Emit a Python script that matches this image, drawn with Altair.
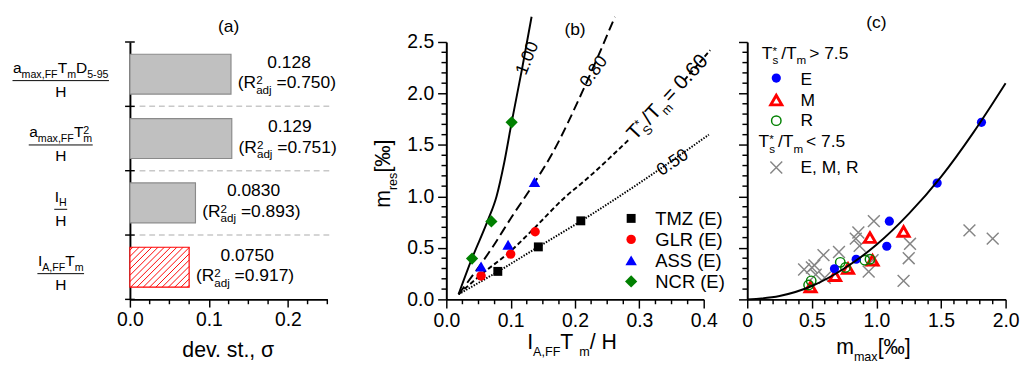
import altair as alt
import numpy as np
import pandas as pd

FONT = "Liberation Sans"

# ---------------- panel (a) data ----------------
a_sigma = [0.128, 0.129, 0.0830, 0.0750]
a_sigma_txt = ["0.128", "0.129", "0.0830", "0.0750"]
a_r2adj_txt = ["0.750", "0.751", "0.893", "0.917"]
a_x_major = [0.0, 0.1, 0.2]
a_label_pieces = [
    [("a", "n"), ("max,FF", "b"), ("T", "n"), ("m", "b"), ("D", "n"), ("5-95", "b")],
    [("a", "n"), ("max,FF", "b"), ("T", "n"), ("2", "p0"), ("m", "b")],
    [("I", "n"), ("H", "b")],
    [("I", "n"), ("A,FF", "b"), ("T", "n"), ("m", "b")],
]

# ---------------- panel (b) data ----------------
b_names = ["TMZ (E)", "GLR (E)", "ASS (E)", "NCR (E)"]
b_tmz_x = [0.080, 0.143, 0.209]
b_tmz_y = [0.272, 0.510, 0.763]
b_glr_x = [0.054, 0.100, 0.138]
b_glr_y = [0.228, 0.440, 0.657]
b_ass_x = [0.054, 0.096, 0.137]
b_ass_y = [0.320, 0.530, 1.140]
b_ncr_x = [0.040, 0.070, 0.1015]
b_ncr_y = [0.397, 0.757, 1.720]

b_c100_x = [0.019, 0.040, 0.064, 0.078, 0.090, 0.1015, 0.118, 0.1325]
b_c100_y = [0.05, 0.40, 0.76, 1.00, 1.33, 1.72, 2.25, 2.745]
b_c080_x = [0.019, 0.071, 0.1015, 0.1366, 0.164, 0.2145, 0.262]
b_c080_y = [0.05, 0.50, 0.80, 1.13, 1.41, 2.06, 2.745]
b_c060_x = [0.019, 0.054, 0.100, 0.138, 0.184, 0.2145, 0.285, 0.370, 0.410]
b_c060_y = [0.05, 0.24, 0.47, 0.70, 0.99, 1.15, 1.56, 2.13, 2.42]
b_c050_x = [0.019, 0.080, 0.143, 0.209, 0.300, 0.408]
b_c050_y = [0.05, 0.27, 0.51, 0.76, 1.13, 1.60]

b_lbl_txt = ["1.00", "0.80", "0.50"]
b_lbl_x = [0.1265, 0.2295, 0.352]
b_lbl_y = [2.34, 2.21, 1.327]
b_lbl_ang = [292, 306, 326]

b_x_major = [0.0, 0.1, 0.2, 0.3, 0.4]
b_y_major = [0.0, 0.5, 1.0, 1.5, 2.0, 2.5]

# ---------------- panel (c) data ----------------
c_E_x = [0.675, 0.843, 1.080, 1.100, 1.470, 1.813]
c_E_y = [0.297, 0.390, 0.516, 0.760, 1.130, 1.720]
c_M_x = [0.49, 0.68, 0.78, 0.97, 0.95, 1.21]
c_M_y = [0.12, 0.23, 0.30, 0.38, 0.60, 0.66]
c_R_x = [0.475, 0.495, 0.72, 0.76, 0.91, 0.95]
c_R_y = [0.14, 0.18, 0.36, 0.31, 0.38, 0.39]
c_X_x = [0.44, 0.50, 0.52, 0.53, 0.59, 0.60, 0.71, 0.84, 0.86, 0.87, 0.94, 0.97, 0.98, 1.21, 1.25, 1.26, 1.72, 1.90]
c_X_y = [0.29, 0.31, 0.33, 0.24, 0.43, 0.21, 0.46, 0.59, 0.65, 0.52, 0.27, 0.38, 0.76, 0.18, 0.40, 0.54, 0.67, 0.59]
c_fit_x = [0.0, 0.25, 0.5, 0.75, 1.0, 1.25, 1.5, 1.75, 2.0]
c_fit_y = [0.0, 0.033, 0.13, 0.30, 0.53, 0.83, 1.19, 1.62, 2.10]
c_x_major = [0.0, 0.5, 1.0, 1.5, 2.0]

WA, WB, WC, H = 204, 266, 267, 266

# ---------------- helpers ----------------
CW = dict(zip("abcdefghijklmnopqrstuvwxyz",
              [556, 556, 500, 556, 556, 278, 556, 556, 222, 222, 500, 222, 833, 556, 556, 556, 556, 333, 500, 278, 556, 500, 722, 500, 500, 500]))
CW.update(zip("ABCDEFGHIJKLMNOPQRSTUVWXYZ",
              [667, 667, 722, 722, 667, 611, 778, 722, 278, 500, 667, 556, 833, 722, 778, 667, 778, 722, 667, 611, 722, 667, 944, 667, 667, 611]))
CW.update({c: 556 for c in "0123456789"})
CW.update({" ": 278, ".": 278, ",": 278, "-": 333, "=": 584, "(": 333, ")": 333, "/": 278,
           "*": 389, ">": 584, "<": 584, "[": 278, "]": 278, "\u2030": 1000, "\u03c3": 570})


def tw(s, fs):
    return sum(CW.get(ch, 556) for ch in s) * fs / 1000.0


def rich(pieces, x, y, main, sub, data=None, anchor="center", angle=0, sub_dy=None,
         base_dy=0.0, dx0=0.0, color="black", gap=0.0):
    if data is None:
        data = pd.DataFrame({"k": [0]})
    if sub_dy is None:
        sub_dy = 0.3 * main
    sup_dy = -0.716 * (main - sub)
    items, pos = [], 0.0
    for txt, kind in pieces:
        fs = main if kind == "n" else sub
        dy = base_dy + (0 if kind == "n" else (sub_dy if kind == "b" else sup_dy))
        items.append((txt, fs, pos, dy))
        if kind != "p0":
            s = str(data[txt[1:]].iloc[0]) if txt.startswith("@") else txt
            pos += tw(s, fs) + (gap if kind == "b" else 0)
    start = dx0 - (pos / 2 if anchor == "center" else 0)
    layers = []
    for txt, fs, p, dy in items:
        mk = dict(fontSize=fs, dx=start + p, dy=dy, align="left", baseline="alphabetic",
                  font=FONT, color=color)
        if angle:
            mk["angle"] = angle
        enc = dict(x=x, y=y)
        if txt.startswith("@"):
            enc["text"] = alt.Text(txt[1:] + ":N")
        else:
            mk["text"] = txt
        layers.append(alt.Chart(data).mark_text(**mk).encode(**enc))
    return layers, pos


def scl(dom, rev=False):
    kw = dict(domain=dom, nice=False, zero=False)
    if rev:
        kw["reverse"] = True
    return alt.Scale(**kw)


def minor(lo, hi, step, major_step):
    vals = np.round(np.arange(lo, hi + 1e-9, step), 4)
    return [float(v) for v in vals if abs(v / major_step - round(v / major_step)) > 1e-6]


AX = dict(tickWidth=1.5, domainWidth=2, labelFontSize=20, labelFlush=False, title=None, grid=False,
          labelFont=FONT, labelColor="black", domainColor="black", tickColor="black")
axa_x = alt.Axis(values=a_x_major, format=".1f", tickSize=8, labelPadding=3, **AX)
axa_y = alt.Axis(values=[0, 1, 2, 3, 4], labels=False, ticks=False, **AX)
axb_x = alt.Axis(values=b_x_major, format=".1f", tickSize=9, labelPadding=3, **AX)
axb_y = alt.Axis(values=b_y_major, format=".1f", tickSize=9, labelPadding=4, **AX)
axc_x = alt.Axis(values=c_x_major, labelExpr="datum.value == 0 ? '0' : format(datum.value, '.1f')",
                 tickSize=9, labelPadding=3, **AX)
axc_y = alt.Axis(values=b_y_major, labels=False, tickSize=9, **AX)


def XA(f):
    return alt.X(f, type="quantitative", scale=scl([0, 0.25]), axis=axa_x)


def YA(f):
    return alt.Y(f, type="quantitative", scale=scl([0, 4], True), axis=axa_y)


def XB(f):
    return alt.X(f, type="quantitative", scale=scl([0, 0.4]), axis=axb_x)


def YB(f):
    return alt.Y(f, type="quantitative", scale=scl([0, 2.5]), axis=axb_y)


def XC(f):
    return alt.X(f, type="quantitative", scale=scl([0, 2.0]), axis=axc_x)


def YC(f):
    return alt.Y(f, type="quantitative", scale=scl([0, 2.5]), axis=axc_y)


def minor_x(vals, X, ln=5):
    return alt.Chart(pd.DataFrame({"v": vals})).mark_rule(color="black", strokeWidth=1.5).encode(
        x=X("v"), y=alt.value(H), y2=alt.value(H + ln))


def minor_y(vals, Y, ln=5):
    return alt.Chart(pd.DataFrame({"v": vals})).mark_rule(color="black", strokeWidth=1.5).encode(
        y=Y("v"), x=alt.value(0), x2=alt.value(-ln))


def one(**kw):
    return pd.DataFrame({k: [v] for k, v in kw.items()})


# =============== panel (a) ===============
rows = list(range(len(a_sigma)))
dfa = pd.DataFrame({
    "pos": rows, "val": a_sigma, "x0": [0.0] * 4,
    "y0": [r + 0.19 for r in rows], "y1": [r + 0.81 for r in rows],
    "fillc": ["#c0c0c0"] * 3 + ["#ffffff"], "strokec": ["#8a8a8a"] * 3 + ["#ff0000"],
    "txt": a_sigma_txt, "r2": ["=" + v + ")" for v in a_r2adj_txt],
    "yl1": [r + 0.40 for r in rows], "yl2": [r + 0.72 for r in rows],
})

bars = alt.Chart(dfa).mark_bar(strokeWidth=1.2).encode(
    x=XA("x0"), x2=alt.X2("val"), y=YA("y0"), y2=alt.Y2("y1"),
    fill=alt.Fill("fillc:N", scale=None), stroke=alt.Stroke("strokec:N", scale=None))

# hatching of the highlighted bar
pxx, pxy = WA / 0.25, H / 4.0
hb = 3
Wp, Hp = a_sigma[hb] * pxx, 0.62 * pxy
hx0, hy0, hx1, hy1 = [], [], [], []
for c in np.arange(-Hp + 3, Wp, 6.5):
    u0, u1 = max(0.0, c), min(Wp, Hp + c)
    if u1 > u0:
        hx0.append(u0 / pxx); hy0.append(hb + 0.81 - (u0 - c) / pxy)
        hx1.append(u1 / pxx); hy1.append(hb + 0.81 - (u1 - c) / pxy)
hatch = alt.Chart(pd.DataFrame({"a": hx0, "b": hy0, "c": hx1, "d": hy1})).mark_rule(
    color="#ff0000", strokeWidth=1).encode(x=XA("a"), y=YA("b"), x2=alt.X2("c"), y2=alt.Y2("d"))

cross_ticks = alt.Chart(pd.DataFrame({"v": [0, 1, 2, 3, 4]})).mark_rule(color="black", strokeWidth=1.5).encode(
    y=YA("v"), x=alt.value(-5), x2=alt.value(5))
seps = alt.Chart(pd.DataFrame({"v": [1, 2, 3]})).mark_rule(color="#c8c8c8", strokeWidth=1.5, strokeDash=[6, 4]).encode(
    y=YA("v"), x=alt.value(10), x2=alt.value(210))

lab1 = alt.Chart(dfa).mark_text(fontSize=18, dx=60, align="center", baseline="alphabetic", font=FONT).encode(
    x=XA("val"), y=YA("yl1"), text="txt:N")
lab2, _ = rich([("(R", "n"), ("2", "p0"), ("adj", "b"), ("@r2", "n")], XA("val"), YA("yl2"), 18, 12,
               data=dfa, anchor="left", dx0=7, gap=5)

a_layers = [bars, seps, hatch, cross_ticks, minor_x(minor(0, 0.25, 0.025, 0.1), XA), lab1] + lab2
cxa = -71.5
for i, pieces in enumerate(a_label_pieces):
    d1 = one(yn=i + 0.48, yl=i + 0.60, yh=i + 0.855)
    num, w = rich(pieces, alt.value(cxa), YA("yn"), 16, 11, data=d1)
    den, _ = rich([("H", "n")], alt.value(cxa), YA("yh"), 16, 11, data=d1)
    w = max(w, tw("H", 16)) + 1
    line = alt.Chart(d1).mark_rule(color="black", strokeWidth=1).encode(
        x=alt.value(cxa - w / 2), x2=alt.value(cxa + w / 2), y=YA("yl"))
    a_layers += num + den + [line]
ta, _ = rich([("(a)", "n")], alt.value(WA / 2), alt.value(-10), 18, 12)
xta, _ = rich([("dev. st., \u03c3", "n")], alt.value(WA / 2), alt.value(H + 60), 22, 14)
a_layers += ta + xta
pa = alt.layer(*a_layers).properties(width=WA, height=H)

# =============== panel (b) ===============
b_style = {"TMZ (E)": ("square", "#000000", 85), "GLR (E)": ("circle", "#ff0000", 95),
           "ASS (E)": ("triangle-up", "#0000ff", 140), "NCR (E)": ("diamond", "#008000", 160)}
b_pts = {"TMZ (E)": (b_tmz_x, b_tmz_y), "GLR (E)": (b_glr_x, b_glr_y),
         "ASS (E)": (b_ass_x, b_ass_y), "NCR (E)": (b_ncr_x, b_ncr_y)}
recs = []
for nm in b_names:
    for xv, yv in zip(*b_pts[nm]):
        s = b_style[nm]
        recs.append({"x": xv, "y": yv, "shp": s[0], "col": s[1], "sz": s[2]})
dfb = pd.DataFrame(recs)


def bline(xs, ys, dash=None, seg=None):
    df = pd.DataFrame({"x": xs, "y": ys, "s": seg if seg is not None else [0] * len(xs)})
    mk = dict(color="black", strokeWidth=2, interpolate="monotone", strokeJoin="round")
    if dash:
        mk["strokeDash"] = dash
    return alt.Chart(df).mark_line(**mk).encode(x=XB("x"), y=YB("y"), detail="s:N")


g060 = [(xv, yv, 0 if xv <= 0.286 else 1) for xv, yv in zip(b_c060_x, b_c060_y) if xv <= 0.286 or xv >= 0.368]
b_layers = [
    alt.Chart(dfb).mark_point(filled=True, opacity=0).encode(x=XB("x"), y=YB("y")),
    bline(b_c100_x, b_c100_y),
    bline(b_c080_x, b_c080_y, [10, 5]),
    bline([g[0] for g in g060], [g[1] for g in g060], [5, 3], [g[2] for g in g060]),
    bline(b_c050_x, b_c050_y, [1.5, 1.5]),
]
for t, lx, ly, ang in zip(b_lbl_txt, b_lbl_x, b_lbl_y, b_lbl_ang):
    b_layers.append(alt.Chart(one(x=lx, y=ly)).mark_text(
        text=t, angle=ang, fontSize=18, align="center", baseline="middle", font=FONT).encode(x=XB("x"), y=YB("y")))
ts_lbl, _ = rich([("T", "n"), ("*", "p0"), ("S", "b"), ("/T", "n"), ("m", "b"), (" = 0.60", "n")],
                 XB("x"), YB("y"), 21, 13, data=one(x=0.288, y=1.57), anchor="left", angle=313, base_dy=5, gap=1)
b_layers += ts_lbl
b_layers.append(alt.Chart(dfb).mark_point(filled=True, opacity=1).encode(
    x=XB("x"), y=YB("y"), shape=alt.Shape("shp:N", scale=None),
    fill=alt.Fill("col:N", scale=None), size=alt.Size("sz:Q", scale=None)))
b_layers += [minor_x(minor(0, 0.4, 0.025, 0.1), XB), minor_y(minor(0, 2.5, 0.1, 0.5), YB)]
for k, nm in enumerate(b_names):
    s = b_style[nm]
    b_layers.append(alt.Chart(one(k=k)).mark_point(shape=s[0], fill=s[1], size=s[2], filled=True, opacity=1).encode(
        x=alt.value(191), y=alt.value(182.3 + k * 21.7)))
    b_layers.append(alt.Chart(one(k=k)).mark_text(text=nm, fontSize=19, align="left", baseline="alphabetic", font=FONT).encode(
        x=alt.value(216), y=alt.value(189 + k * 21.7)))
tb, _ = rich([("(b)", "n")], alt.value(WB / 2), alt.value(-7), 18, 12)
xtb, _ = rich([("I", "n"), ("A,FF", "b"), (" T", "n"), ("m", "b"), (" / H", "n")],
              alt.value(WB / 2), alt.value(H + 51), 22, 13, sub_dy=8)
ytb, _ = rich([("m", "n"), ("res", "b"), (" [\u2030]", "n")], alt.value(-58), alt.value(H / 2), 22, 13,
              angle=270, sub_dy=7)
b_layers += tb + xtb + ytb
pb = alt.layer(*b_layers).properties(width=WB, height=H)

# =============== panel (c) ===============
XSHAPE = "M-1,-1L1,1M-1,1L1,-1"
c_layers = [
    alt.Chart(pd.DataFrame({"x": c_X_x, "y": c_X_y})).mark_point(
        shape=XSHAPE, size=150, color="#858585", strokeWidth=1.5, filled=False, opacity=1).encode(
        x=XC("x"), y=YC("y")),
    alt.Chart(pd.DataFrame({"x": c_M_x, "y": c_M_y})).mark_point(
        shape="triangle-up", size=130, color="#ff0000", strokeWidth=3, filled=False, opacity=1).encode(
        x=XC("x"), y=YC("y")),
    alt.Chart(pd.DataFrame({"x": c_R_x, "y": c_R_y})).mark_point(
        shape="circle", size=95, color="#008000", strokeWidth=1.5, filled=False, opacity=1).encode(
        x=XC("x"), y=YC("y")),
    alt.Chart(pd.DataFrame({"x": c_E_x, "y": c_E_y})).mark_point(
        shape="circle", size=90, color="#0000ff", filled=True, opacity=1).encode(x=XC("x"), y=YC("y")),
    alt.Chart(pd.DataFrame({"x": c_fit_x, "y": c_fit_y})).mark_line(
        color="black", strokeWidth=2, interpolate="monotone", strokeJoin="round").encode(x=XC("x"), y=YC("y")),
    minor_x(minor(0, 2.0, 0.1, 0.5), XC), minor_y(minor(0, 2.5, 0.1, 0.5), YC),
]
t1, _ = rich([("T", "n"), ("*", "p0"), ("s", "b"), ("/T", "n"), ("m", "b"), (" > 7.5", "n")],
             alt.value(15), alt.value(17.3), 18, 12, anchor="left", gap=3)
t2, _ = rich([("T", "n"), ("*", "p0"), ("s", "b"), ("/T", "n"), ("m", "b"), (" < 7.5", "n")],
             alt.value(11.7), alt.value(109), 18, 12, anchor="left", gap=3)
c_layers += t1 + t2
c_leg = [
    (dict(shape="circle", size=90, color="#0000ff", filled=True), 37.3, "E", 44),
    (dict(shape="triangle-up", size=130, color="#ff0000", strokeWidth=3, filled=False), 60, "M", 65.7),
    (dict(shape="circle", size=95, color="#008000", strokeWidth=1.5, filled=False), 81.3, "R", 87.3),
    (dict(shape=XSHAPE, size=150, color="#858585", strokeWidth=1.5, filled=False), 129.7, "E, M, R", 135.7),
]
for mk, sy, lab, ly in c_leg:
    c_layers.append(alt.Chart(one(k=0)).mark_point(opacity=1, **mk).encode(x=alt.value(30), y=alt.value(sy)))
    c_layers.append(alt.Chart(one(k=0)).mark_text(text=lab, fontSize=18, align="left", baseline="alphabetic", font=FONT).encode(
        x=alt.value(55), y=alt.value(ly)))
tc, _ = rich([("(c)", "n")], alt.value(WC / 2), alt.value(-14), 18, 12)
xtc, _ = rich([("m", "n"), ("max", "b"), (" [\u2030]", "n")], alt.value(WC / 2), alt.value(H + 56), 22, 13, sub_dy=8)
c_layers += tc + xtc
pc = alt.layer(*c_layers).properties(width=WC, height=H)


def spacer(w):
    return alt.Chart(one(k=0)).mark_point(opacity=0).encode(x=alt.value(0), y=alt.value(0)).properties(width=w, height=H)


chart = alt.hconcat(pa, spacer(103), pb, spacer(25), pc, spacing=10, bounds="flush").properties(
    padding={"left": 3, "top": 0, "right": 4, "bottom": 4}
).configure_view(stroke="transparent")

chart.save("out.html", embed_options={"renderer": "svg", "actions": False})
